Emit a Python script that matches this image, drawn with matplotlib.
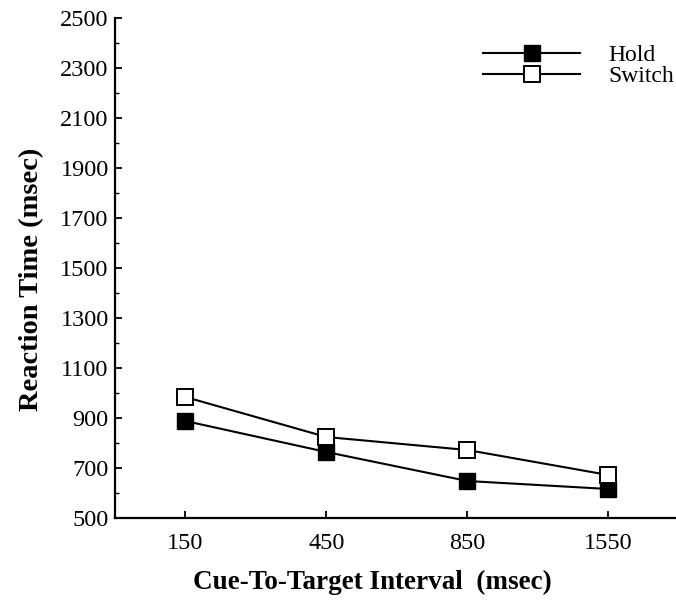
import numpy as np
import matplotlib.pyplot as plt
from matplotlib.ticker import FixedLocator

intervals = ["150", "450", "850", "1550"]
hold = [888, 764, 648, 616]
switch = [984, 824, 772, 672]

plt.rcParams['font.family'] = ['Liberation Serif', 'DejaVu Serif']

fig = plt.figure(figsize=(6.76, 6.05), dpi=100)
ax = fig.add_axes([0.170, 0.1438, 0.830, 0.8264])

x = np.arange(len(intervals))
ax.plot(x, hold, color='black', lw=1.5, marker='s', markersize=11.5,
        markerfacecolor='black', markeredgecolor='black', label='Hold')
ax.plot(x, switch, color='black', lw=1.5, marker='s', markersize=11.5,
        markerfacecolor='white', markeredgecolor='black', markeredgewidth=1.4,
        label='Switch')

ax.set_xlim(-0.5, 3.48)
ax.set_ylim(500, 2500)
ax.set_xticks(x)
ax.set_xticklabels(intervals)
ax.yaxis.set_major_locator(FixedLocator(np.arange(500, 2501, 200)))
ax.yaxis.set_minor_locator(FixedLocator(np.arange(600, 2500, 200)))
ax.tick_params(axis='both', which='major', direction='in', length=5, width=1.3,
               labelsize=17.5)
ax.tick_params(axis='y', which='major', pad=4.5)
ax.tick_params(axis='x', which='major', pad=11)
ax.tick_params(axis='y', which='minor', direction='in', length=3, width=1)

for s in ['top', 'right']:
    ax.spines[s].set_visible(False)
for s in ['left', 'bottom']:
    ax.spines[s].set_linewidth(1.6)

ax.set_xlabel('Cue-To-Target Interval  (msec)', fontsize=19.5, fontweight='bold')
ax.xaxis.set_label_coords(0.458, -0.104)
ax.set_ylabel('Reaction Time (msec)', fontsize=20.5, fontweight='bold')
ax.yaxis.set_label_coords(-0.127, 0.478)

ax.legend(loc='upper right', bbox_to_anchor=(1.035, 0.990), frameon=False,
          fontsize=17, handlelength=4.1, handletextpad=1.2, labelspacing=0.0)

fig.savefig('out.png', dpi=100)
